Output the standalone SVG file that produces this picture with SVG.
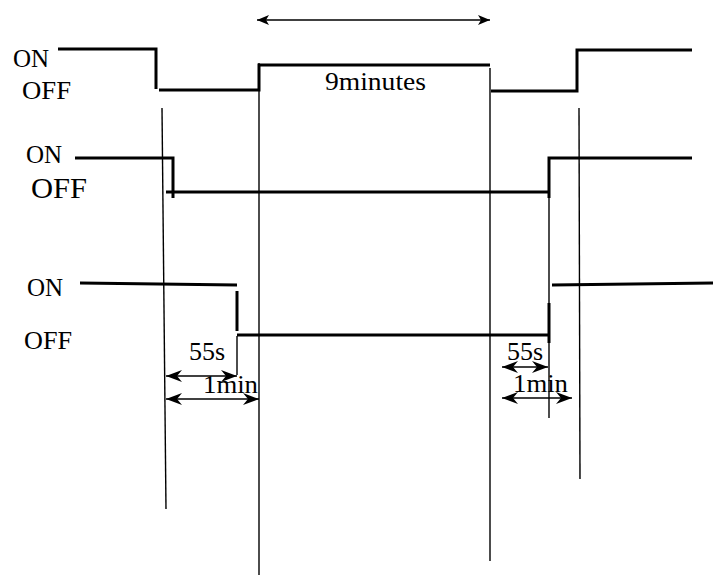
<svg xmlns="http://www.w3.org/2000/svg" width="713" height="575" viewBox="0 0 713 575">
<defs>
<style>
.t{font-family:"Liberation Serif","Times New Roman",serif;font-size:25px;fill:#000}
.w{fill:none;stroke:#000;stroke-width:3}
.g{fill:none;stroke:#000;stroke-width:1.4}
.d{fill:none;stroke:#000;stroke-width:1.5}
</style>
<marker id="ah" viewBox="0 0 12 10" refX="12" refY="5" markerWidth="12" markerHeight="10" markerUnits="userSpaceOnUse" orient="auto-start-reverse">
<path d="M0,0 L12,5 L0,10 L3,5 Z" fill="#000"/>
</marker>
<marker id="dh" viewBox="0 0 16 12" refX="16" refY="6" markerWidth="16" markerHeight="12" markerUnits="userSpaceOnUse" orient="auto-start-reverse">
<path d="M0,0 L16,6 L0,12 L5,6 Z" fill="#000"/>
</marker>
</defs>
<rect width="713" height="575" fill="#fff"/>
<g id="guides">
<line class="g" x1="162" y1="108" x2="166" y2="509"/>
<line class="g" x1="259" y1="63" x2="259" y2="575"/>
<line class="g" x1="490" y1="68" x2="490" y2="561"/>
<line class="g" x1="579" y1="108" x2="580" y2="479"/>
<line class="g" x1="549" y1="196" x2="549" y2="418"/>
<line class="g" x1="237" y1="336" x2="237" y2="375"/>
</g>
<g id="signal1">
<path class="w" d="M58,49 H156 V89"/>
<path class="w" d="M159,90 H259 V65 H490"/>
<path class="w" d="M491,91 H577 V50 H692"/>
</g>
<g id="signal2">
<path class="w" d="M75,158 H173 V198"/>
<path class="w" d="M166,192 H549"/>
<path class="w" d="M549,198 V158 H692"/>
</g>
<g id="signal3">
<path class="w" d="M80,283 L237,285"/>
<line class="w" x1="237" y1="291" x2="237" y2="331"/>
<path class="w" d="M237,335 H549"/>
<line class="w" x1="549" y1="303" x2="549" y2="343"/>
<path class="w" d="M552,285 L713,283"/>
</g>
<g id="connectors">
<line class="g" x1="257" y1="20" x2="490" y2="20" marker-start="url(#ah)" marker-end="url(#ah)"/>
<line class="d" x1="166" y1="376" x2="237" y2="376" marker-start="url(#dh)" marker-end="url(#dh)"/>
<line class="d" x1="166" y1="399" x2="259" y2="399" marker-start="url(#dh)" marker-end="url(#dh)"/>
<line class="d" x1="502" y1="367" x2="548" y2="367" marker-start="url(#dh)" marker-end="url(#dh)"/>
<line class="d" x1="502" y1="398" x2="572" y2="398" marker-start="url(#dh)" marker-end="url(#dh)"/>
</g>
<g id="labels">
<text class="t" x="13" y="67">ON</text>
<text class="t" x="22" y="99" textLength="49" lengthAdjust="spacingAndGlyphs">OFF</text>
<text class="t" x="26" y="163">ON</text>
<text class="t" x="31" y="198" style="font-size:30px" textLength="56" lengthAdjust="spacingAndGlyphs">OFF</text>
<text class="t" x="27" y="296">ON</text>
<text class="t" x="24" y="349" textLength="48" lengthAdjust="spacingAndGlyphs">OFF</text>
<text class="t" x="325" y="90" textLength="101" lengthAdjust="spacingAndGlyphs">9minutes</text>
<text class="t" x="189" y="360" style="font-size:26px">55s</text>
<text class="t" x="203" y="393" style="font-size:26px" textLength="55" lengthAdjust="spacingAndGlyphs">1min</text>
<text class="t" x="507" y="360" style="font-size:26px">55s</text>
<text class="t" x="513" y="392" style="font-size:26px" textLength="55" lengthAdjust="spacingAndGlyphs">1min</text>
</g>
</svg>
